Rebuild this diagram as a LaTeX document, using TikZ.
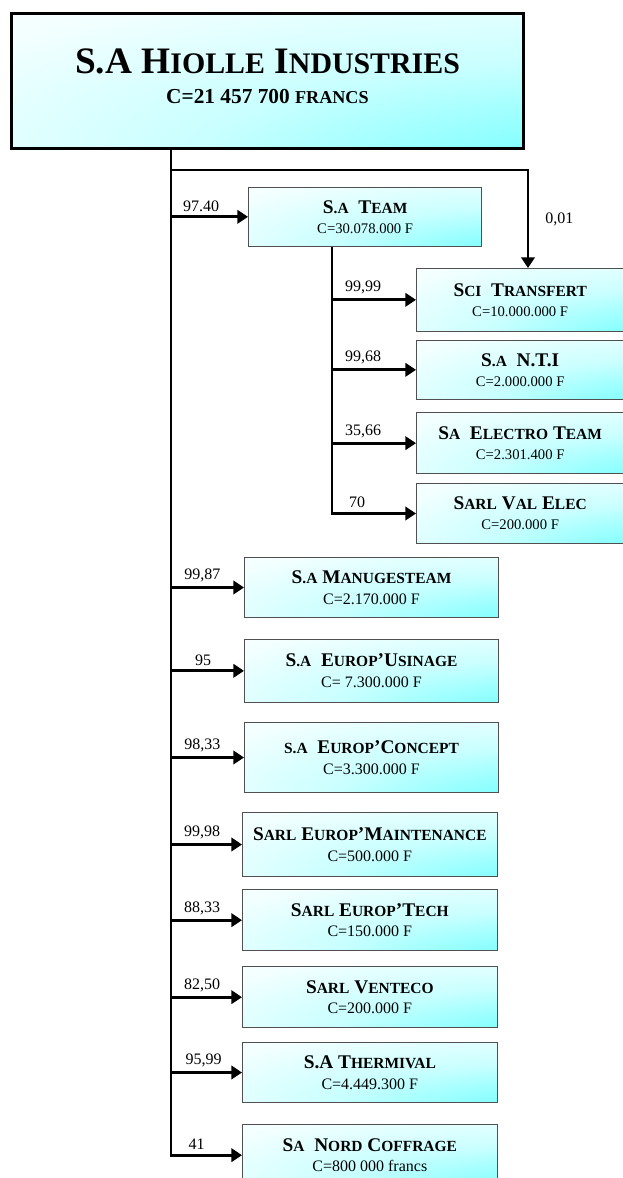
\documentclass[tikz,border=0pt]{standalone}
\usepackage{fontspec}
\setmainfont{Liberation Serif}
\usepackage{graphicx}
\usetikzlibrary{arrows.meta}

\definecolor{aqua}{RGB}{100,255,255}
\definecolor{rim}{RGB}{80,80,80}
\pgfdeclareradialshading{cornerglow}{\pgfpoint{50bp}{-50bp}}{color(0bp)=(aqua);
  color(18bp)=(aqua!85!white); color(38bp)=(aqua!35!white); color(58bp)=(aqua!8!white);
  color(75bp)=(white); color(100bp)=(white)}
\newcommand{\lc}[1]{\scalebox{0.8}{#1}}
\newcommand{\firmname}[1]{{\bfseries\fontsize{14.5}{15}\selectfont #1}}

\begin{document}
\begin{tikzpicture}[x=0.75pt, y=-0.75pt, every node/.style={align=center},
    box/.style={draw=rim, line width=0.75pt, anchor=north west, inner sep=1pt,
      shade, shading=cornerglow, font=\fontsize{11}{15}\selectfont},
    rightbox/.style={box, minimum width=155.5pt, minimum height=46pt},
    listbox/.style={box, minimum width=191pt, minimum height=46pt, font=\fontsize{12}{15.5}\selectfont},
    link/.style={line width=2.2pt},
    arr/.style={link, -{Triangle[length=8pt,width=10pt]}},
    pct/.style={font=\fontsize{12}{12}\selectfont, inner sep=0pt},
    share/.style={pct, above=3pt}]

\useasboundingbox (0,0) rectangle (622,1178);

% holding
\node[box, draw=black, line width=2.2pt, minimum width=384pt, minimum height=101pt,
  font=\fontsize{16}{22}\selectfont] (hiolle) at (10,12)
  {{\bfseries\fontsize{28}{30}\selectfont S.A H\lc{IOLLE} I\lc{NDUSTRIES}}\\
   {\bfseries C=21 457 700 \scalebox{0.85}{FRANCS}}\rule[-7pt]{0pt}{0pt}};

% team and its subsidiaries
\node[box, minimum width=175pt, minimum height=44pt] (team) at (248,187)
  {\firmname{S\lc{.A}\enspace T\lc{EAM}}\\C=30.078.000 F};
\node[rightbox, minimum height=47pt] (sci) at (416,268)
  {\firmname{S\lc{CI}\enspace T\lc{RANSFERT}}\\C=10.000.000 F};
\node[rightbox, minimum height=44pt] (nti) at (416,340)
  {\firmname{S\lc{.A}\enspace N.T.I}\\C=2.000.000 F};
\node[rightbox] (elec) at (416,412)
  {\firmname{S\lc{A}\enspace E\lc{LECTRO} T\lc{EAM}}\\C=2.301.400 F};
\node[rightbox, minimum height=45pt] (val) at (416,483)
  {\firmname{S\lc{ARL} V\lc{AL} E\lc{LEC}}\\C=200.000 F};

% direct subsidiaries
\node[listbox, minimum width=190.5pt, minimum height=45pt] (manu) at (244,557)
  {\firmname{S\lc{.A} M\lc{ANUGESTEAM}}\\C=2.170.000 F};
\node[listbox, minimum width=190.5pt, minimum height=47pt] (usin) at (244,639)
  {\firmname{S\lc{.A}\enspace E\lc{UROP}’U\lc{SINAGE}}\\C= 7.300.000 F};
\node[listbox, minimum width=190.5pt, minimum height=52.5pt] (conc) at (244,722)
  {\firmname{\lc{S.A}\enspace E\lc{UROP}’C\lc{ONCEPT}}\\C=3.300.000 F};
\node[listbox, minimum height=48pt] (maint) at (242,812)
  {\firmname{S\lc{ARL} E\lc{UROP}’M\lc{AINTENANCE}}\\C=500.000 F};
\node[listbox] (tech) at (242,889)
  {\firmname{S\lc{ARL} E\lc{UROP}’T\lc{ECH}}\\C=150.000 F};
\node[listbox] (vent) at (242,966)
  {\firmname{S\lc{ARL} V\lc{ENTECO}}\\C=200.000 F};
\node[listbox, minimum height=45pt] (therm) at (242,1042)
  {\firmname{S.A T\lc{HERMIVAL}}\\C=4.449.300 F};
\node[listbox] (nord) at (242,1124)
  {\firmname{S\lc{A}\enspace N\lc{ORD} C\lc{OFFRAGE}}\\C=800 000 francs};

% connectors
\coordinate (trunk) at (171,0);
\coordinate (fork) at (528,170);
\coordinate (stem) at (332,0);

\draw[arr] (hiolle.south -| trunk) |- node[share, pos=0.68] (p41) {41} (nord.west);
\draw[arr] (trunk |- fork) -- (fork) -- node[pct, right=12pt] (p001) {0,01} (fork |- sci.north);
\draw[arr] (trunk |- team.west) -- node[share, pos=0.39] (p9740) {97.40} (team.west);
\draw[arr] (team.south -| stem) |- node[share, pos=0.65] (p70) {70} (val.west);
\draw[arr] (stem |- sci.west) -- node[share, pos=0.37] (p9999) {99,99} (sci.west);
\draw[arr] (stem |- nti.west) -- node[share, pos=0.37] (p9968) {99,68} (nti.west);
\draw[arr] (stem |- elec.west) -- node[share, pos=0.37] (p3566) {35,66} (elec.west);
\draw[arr] (trunk |- manu.west) -- node[share, pos=0.43] (p9987) {99,87} (manu.west);
\draw[arr] (trunk |- usin.west) -- node[share, pos=0.44] (p95) {95} (usin.west);
\draw[arr] (trunk |- conc.west) -- node[share, pos=0.43] (p9833) {98,33} (conc.west);
\draw[arr] (trunk |- maint.west) -- node[share, pos=0.44] (p9998) {99,98} (maint.west);
\draw[arr] (trunk |- tech.west) -- node[share, pos=0.44] (p8833) {88,33} (tech.west);
\draw[arr] (trunk |- vent.west) -- node[share, pos=0.44] (p8250) {82,50} (vent.west);
\draw[arr] (trunk |- therm.west) -- node[share, pos=0.46] (p9599) {95,99} (therm.west);
\end{tikzpicture}
\end{document}
